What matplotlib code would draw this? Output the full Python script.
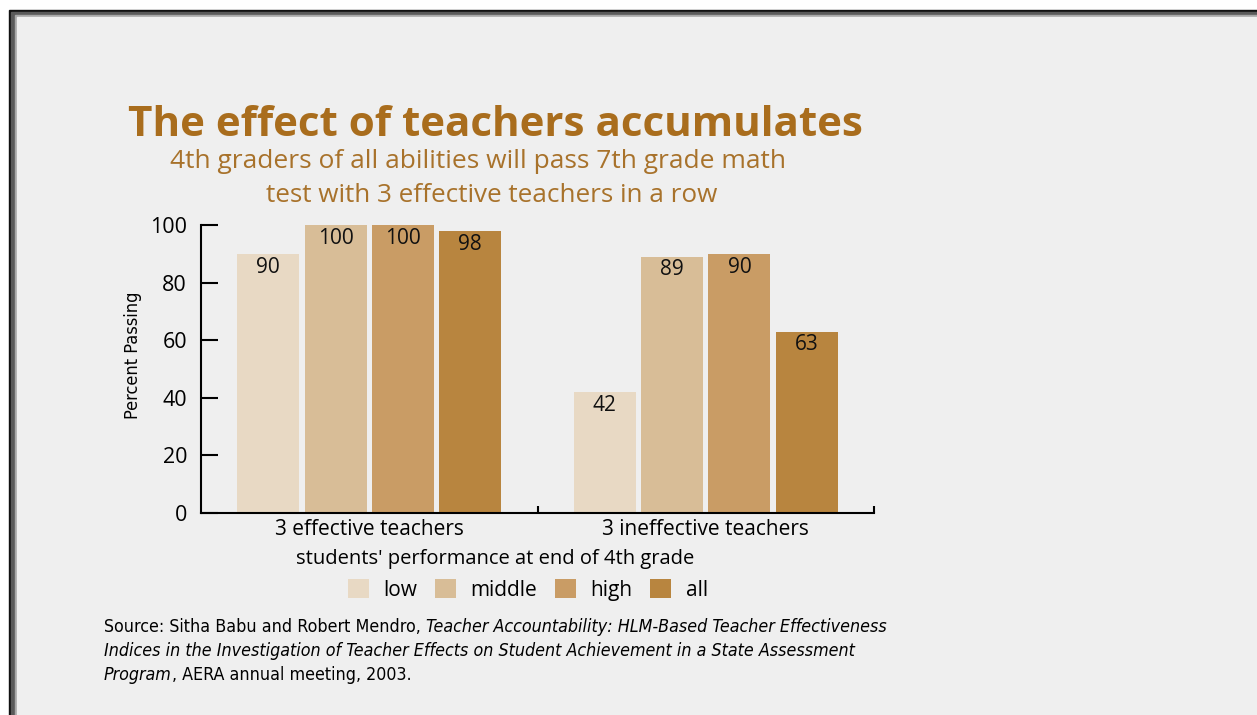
import matplotlib.pyplot as plt
from matplotlib.patches import Rectangle, Patch

categories = ['3 effective teachers', '3 ineffective teachers']
groups = ['low', 'middle', 'high', 'all']
low = [90, 42]
middle = [100, 89]
high = [100, 90]
all_students = [98, 63]
yticks = [0, 20, 40, 60, 80, 100]

colors = ['#e8d9c4', '#d8bd97', '#c99c65', '#b8853f']
brown = '#a96d1d'
bg = '#efefef'

fig = plt.figure(figsize=(12.57, 7.15), dpi=100)
fig.patch.set_facecolor('white')

# frame around the picture
W, H = 1257, 715
def px_rect(x0, y0, x1, y1, color):
    fig.patches.append(Rectangle((x0 / W, 1 - y1 / H), (x1 - x0) / W, (y1 - y0) / H,
                                 transform=fig.transFigure, color=color, zorder=-10))
px_rect(9, 10, W, H, '#111111')
px_rect(11, 12, W, H, '#5a5a5a')
px_rect(15, 15, W, H, '#a8a8a8')
px_rect(17, 17, W, H, bg)

ax = fig.add_axes([201 / W, 1 - 513 / H, (874 - 201) / W, (513 - 225) / H])
ax.set_facecolor('none')

series = [low, middle, high, all_students]
width = 0.184
pitch = 0.2
xs = [0.5, 1.5]
for i, vals in enumerate(series):
    pos = [x + (i - 1.5) * pitch for x in xs]
    bars = ax.bar(pos, vals, width=width, color=colors[i], zorder=2)
    for b, v in zip(bars, vals):
        ax.annotate(str(v), (b.get_x() + b.get_width() / 2, v), xytext=(0, -2),
                    textcoords='offset points', ha='center', va='top',
                    fontsize=15, family='Open Sans', color='#111111')

ax.set_xlim(0, 2)
ax.set_ylim(0, 100)
ax.spines['top'].set_visible(False)
ax.spines['right'].set_visible(False)
ax.spines['left'].set_linewidth(1.5)
ax.spines['bottom'].set_linewidth(1.5)
ax.set_yticks(yticks)
ax.tick_params(axis='y', direction='in', length=12, width=1.5, labelsize=15.5, pad=10)
ax.set_xticks([1, 2])
ax.set_xticklabels(['', ''])
ax.tick_params(axis='x', direction='in', length=5, width=1.5)
for lab in ax.get_yticklabels():
    lab.set_family('Open Sans')
for x, c in zip(xs, categories):
    ax.text(x, -2.0, c, ha='center', va='top', fontsize=15, family='Open Sans')

cond = dict(family='DejaVu Sans', stretch='condensed')
ax.set_ylabel('Percent Passing', fontsize=13, **cond)
ax.yaxis.set_label_coords(-0.088, 0.549)

fig.text(495 / W, 1 - 125 / H, 'The effect of teachers accumulates', ha='center', va='center',
         fontsize=30.3, fontweight='bold', family='Open Sans', color=brown)
fig.text(478 / W, 1 - 162 / H, '4th graders of all abilities will pass 7th grade math',
         ha='center', va='center', fontsize=19, family='Open Sans', color='#a8722b')
fig.text(492 / W, 1 - 196 / H, 'test with 3 effective teachers in a row',
         ha='center', va='center', fontsize=18.8, family='Open Sans', color='#a8722b')

fig.text(495 / W, 1 - 559 / H, "students' performance at end of 4th grade",
         ha='center', va='center', fontsize=14.5, family='Open Sans')

handles = [Patch(facecolor=c, edgecolor='none', label=g) for c, g in zip(colors, groups)]
fig.legend(handles=handles, loc='center', bbox_to_anchor=(528 / W, 1 - 590 / H), ncol=4,
           frameon=False, handlelength=1.0, handleheight=1.0,
           handletextpad=0.7, columnspacing=0.85, prop={'family': 'Open Sans', 'size': 15})

fs = 12.8
line1 = fig.text(104 / W, 1 - 627 / H, 'Source: Sitha Babu and Robert Mendro, ',
                 ha='left', va='center', fontsize=fs, **cond)
fig.canvas.draw()
bb = line1.get_window_extent()
fig.text(bb.x1 / W, 1 - 627 / H,
         'Teacher Accountability: HLM-Based Teacher Effectiveness',
         ha='left', va='center', fontsize=fs, style='italic', **cond)
fig.text(104 / W, 1 - 651 / H,
         'Indices in the Investigation of Teacher Effects on Student Achievement in a State Assessment',
         ha='left', va='center', fontsize=fs, style='italic', **cond)
line3 = fig.text(104 / W, 1 - 675 / H, 'Program', ha='left', va='center', fontsize=fs,
                 style='italic', **cond)
fig.canvas.draw()
bb = line3.get_window_extent()
fig.text(bb.x1 / W, 1 - 675 / H, ', AERA annual meeting, 2003.', ha='left', va='center',
         fontsize=fs, **cond)

plt.savefig('out.png', dpi=100)
